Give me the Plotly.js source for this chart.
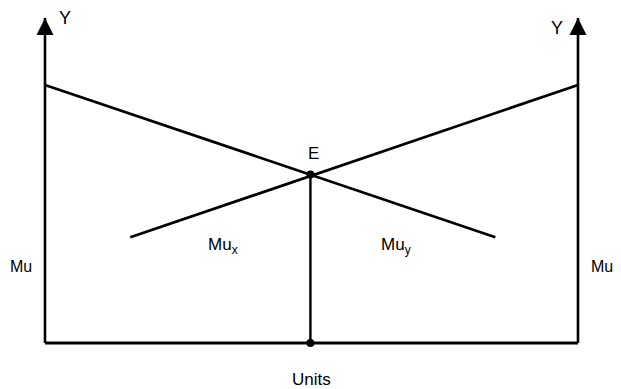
<!DOCTYPE html>
<html>
<head>
<meta charset="utf-8">
<script src="https://cdn.plot.ly/plotly-3.0.1.min.js"></script>
<style>html,body{margin:0;padding:0;background:#fff;}#chart{width:621px;height:389px;}</style>
</head>
<body>
<div id="chart"></div>
<script>
// Data (units on x from 0 to 10, marginal utility on y)
const axisTop = 12.6;
const leftAxisX = [0, 0];
const rightAxisX = [10, 10];
const axisY = [0, axisTop];
const baseX = [0, 10];
const baseY = [0, 0];
const muyX = [0, 8.45];       // downward-sloping line
const muyY = [10, 4.1];
const muxX = [1.6, 10];       // upward-sloping line
const muxY = [4.1, 10];
const eqX = [4.98];
const eqY = [6.53];

const black = '#000';
const traces = [
  {x: leftAxisX, y: axisY, mode: 'lines', line: {color: black, width: 2.6}},
  {x: rightAxisX, y: axisY, mode: 'lines', line: {color: black, width: 2.6}},
  {x: baseX, y: baseY, mode: 'lines', line: {color: black, width: 2.8}},
  {x: muyX, y: muyY, mode: 'lines', line: {color: black, width: 2.8}},
  {x: muxX, y: muxY, mode: 'lines', line: {color: black, width: 2.8}},
  {x: [eqX[0], eqX[0]], y: [0, eqY[0]], mode: 'lines', line: {color: black, width: 2.4}},
  {x: [leftAxisX[0], rightAxisX[0]], y: [axisTop, axisTop], mode: 'markers',
   marker: {symbol: 'arrow-up', size: 17, color: black, line: {width: 0}}},
  {x: eqX, y: eqY, mode: 'markers', marker: {size: 8, color: black}},
  {x: eqX, y: [0], mode: 'markers', marker: {size: 8, color: black}}
];

const f = {family: 'Liberation Sans, Arial, sans-serif', size: 14, color: black};
const ann = (x, y, text, size) => ({x, y, text, showarrow: false, xref: 'x', yref: 'y',
  font: Object.assign({}, f, {size: size || 14})});

const layout = {
  width: 621, height: 389,
  margin: {l: 0, r: 0, t: 0, b: 0},
  paper_bgcolor: '#fff', plot_bgcolor: '#fff',
  showlegend: false,
  xaxis: {range: [-0.844, 10.807], visible: false, fixedrange: true},
  yaxis: {range: [-1.783, 13.295], visible: false, fixedrange: true},
  annotations: [
    ann(0.38, 12.6, 'Y', 18),
    ann(9.6, 12.2, 'Y', 18),
    ann(-0.45, 2.95, 'Mu', 16),
    ann(10.45, 2.95, 'Mu', 16),
    ann(3.34, 3.75, 'Mu<sub>x</sub>', 17),
    ann(6.59, 3.75, 'Mu<sub>y</sub>', 17),
    ann(5.03, 7.35, 'E', 17),
    ann(5.0, -1.4, 'Units', 17)
  ]
};

Plotly.newPlot('chart', traces, layout, {staticPlot: true, displayModeBar: false});
</script>
</body>
</html>
